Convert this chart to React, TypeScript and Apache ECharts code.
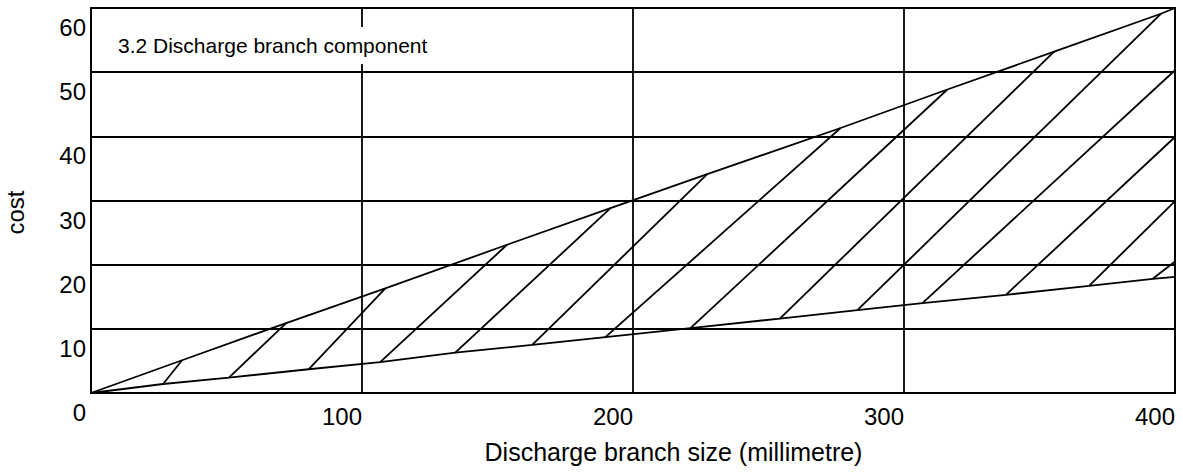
import React, { useEffect, useRef } from "react";
import * as echarts from "echarts";

const FONT = "'Liberation Sans', Arial, Helvetica, sans-serif";

const chartTitle = "3.2 Discharge branch component";
const xAxisName = "Discharge branch size (millimetre)";
const yAxisName = "cost";

const xMin = 0;
const xMax = 400;
const xInterval = 100;
const yMin = 0;
const yMax = 60;
const yInterval = 10;

// upper boundary of the hatched band [size, cost]
const upperEdge: number[][] = [
  [0, 0], [33.6, 5.1], [72.0, 10.9], [108.6, 16.3], [153.5, 23.1], [191.7, 28.8],
  [227.4, 34.1], [276.6, 41.3], [316.0, 47.3], [355.4, 53.2], [394.8, 59.1], [400, 60],
];

// lower boundary of the hatched band [size, cost]
const lowerEdge: number[][] = [
  [0, 0], [26.6, 1.4], [50.9, 2.4], [80.3, 3.7], [106.7, 4.8], [134.4, 6.3],
  [162.8, 7.5], [189.8, 8.7], [221.2, 10.1], [254.2, 11.6], [282.8, 12.9],
  [306.8, 14.0], [337.6, 15.3], [368.3, 16.7], [391.8, 17.8], [400, 18.1],
];

// hatch segments: [x1, y1, x2, y2]
const hatchLines: number[][] = [
  [26.6, 1.4, 33.6, 5.1],
  [50.9, 2.4, 72.0, 10.9],
  [80.3, 3.7, 108.6, 16.3],
  [106.7, 4.8, 153.5, 23.1],
  [134.4, 6.3, 191.7, 28.8],
  [162.8, 7.5, 227.4, 34.1],
  [189.8, 8.7, 276.6, 41.3],
  [221.2, 10.1, 316.0, 47.3],
  [254.2, 11.6, 355.4, 53.2],
  [282.8, 12.9, 394.8, 59.1],
  [306.8, 14.0, 400, 50.3],
  [337.6, 15.3, 400, 39.9],
  [368.3, 16.7, 400, 29.9],
  [391.8, 17.8, 400, 20.5],
];

const LINE_W = 1.8;

export default function App() {
  const ref = useRef<HTMLDivElement>(null);
  useEffect(() => {
    if (!ref.current) return;
    const chart = echarts.init(ref.current, undefined, { renderer: "svg" });
    chart.setOption({
      animation: false,
      backgroundColor: "#fff",
      textStyle: { fontFamily: FONT },
      grid: {
        left: 91,
        right: 8,
        top: 8,
        bottom: 82,
        show: true,
        borderColor: "#000",
        borderWidth: LINE_W,
        containLabel: false,
        outerBoundsMode: "none",
      },
      xAxis: {
        type: "value",
        min: xMin,
        max: xMax,
        interval: xInterval,
        name: xAxisName,
        nameLocation: "middle",
        nameGap: 46,
        nameTextStyle: { fontFamily: FONT, fontSize: 25, color: "#000", padding: [0, 0, 0, 81] },
        axisLine: { show: true, lineStyle: { color: "#000", width: LINE_W } },
        axisTick: { show: false },
        axisLabel: {
          showMinLabel: false,
          fontFamily: FONT,
          fontSize: 24,
          color: "#000",
          align: "right",
          margin: 11,
        },
        splitLine: { show: true, lineStyle: { color: "#000", width: LINE_W } },
      },
      yAxis: {
        type: "value",
        min: yMin,
        max: yMax,
        interval: yInterval,
        name: yAxisName,
        nameLocation: "middle",
        nameGap: 64,
        nameRotate: 90,
        nameTextStyle: { fontFamily: FONT, fontSize: 24, color: "#000", padding: [0, 24, 0, 0] },
        axisLine: { show: true, lineStyle: { color: "#000", width: LINE_W } },
        axisTick: { show: false },
        axisLabel: {
          fontFamily: FONT,
          fontSize: 24,
          color: "#000",
          margin: 5,
          verticalAlign: "top",
          lineHeight: 39,
        },
        splitLine: { show: true, lineStyle: { color: "#000", width: LINE_W } },
      },
      graphic: [
        {
          type: "text",
          left: 110,
          top: 27,
          z: 100,
          style: {
            text: chartTitle,
            font: `21px ${FONT}`,
            fill: "#000",
            backgroundColor: "#fff",
            padding: [8, 8, 8, 8],
          },
        },
      ],
      series: [
        {
          type: "line",
          data: upperEdge,
          symbol: "none",
          lineStyle: { color: "#000", width: LINE_W },
          silent: true,
          z: 3,
        },
        {
          type: "line",
          data: lowerEdge,
          symbol: "none",
          lineStyle: { color: "#000", width: LINE_W },
          silent: true,
          z: 3,
        },
        {
          type: "lines",
          coordinateSystem: "cartesian2d",
          data: hatchLines.map((h) => ({ coords: [[h[0], h[1]], [h[2], h[3]]] })),
          lineStyle: { color: "#000", width: LINE_W, opacity: 1 },
          silent: true,
          z: 3,
        },
      ],
    });
    return () => chart.dispose();
  }, []);
  return (
    <div
      ref={ref}
      style={{ position: "absolute", left: 0, top: 0, width: 1183, height: 475 }}
    />
  );
}
